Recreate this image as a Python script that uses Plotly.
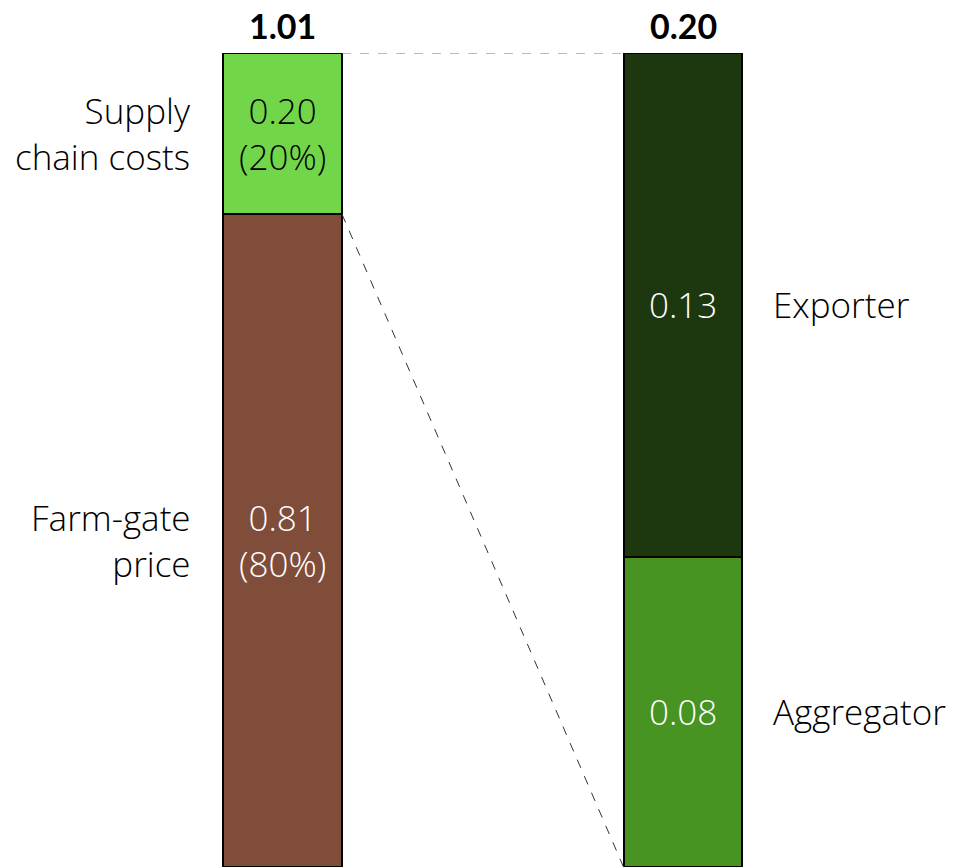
import plotly.graph_objects as go

# Data
left_categories = ["Farm-gate<br>price", "Supply<br>chain costs"]
left_values = [0.81, 0.20]
left_colors = ["#7f4d3a", "#72d64a"]
left_text_colors = ["white", "black"]

right_categories = ["Aggregator", "Exporter"]
right_values = [0.08, 0.13]
right_colors = ["#479423", "#1d380f"]
right_text_colors = ["white", "white"]

header_labels = ["1.01", "0.20"]
bar_positions = [0, 1]

FONT = "Open Sans"
HFONT = "Lato"
FS = 35
W = 0.297

fig = go.Figure()

left_total = sum(left_values)
right_total = sum(right_values)

for cat, v, c in zip(left_categories, left_values, left_colors):
    fig.add_trace(go.Bar(x=[bar_positions[0]], y=[v], width=W, marker=dict(color=c, line=dict(color="black", width=2)),
                         xaxis="x", yaxis="y", showlegend=False, hoverinfo="skip"))
for cat, v, c in zip(right_categories, right_values, right_colors):
    fig.add_trace(go.Bar(x=[bar_positions[1]], y=[v], width=W, marker=dict(color=c, line=dict(color="black", width=2)),
                         xaxis="x", yaxis="y2", showlegend=False, hoverinfo="skip"))

annotations = []
base = 0
for cat, v, tc in zip(left_categories, left_values, left_text_colors):
    mid = base + v / 2
    pct = round(v / left_total * 100)
    annotations.append(dict(x=bar_positions[0], y=mid, xref="x", yref="y", text=f"{v:.2f}<br>({pct}%)",
                            showarrow=False, font=dict(family=FONT, size=FS, color=tc, weight=300), align="center"))
    annotations.append(dict(x=bar_positions[0] - W / 2, y=mid, xref="x", yref="y", text=cat, xanchor="right",
                            xshift=-30, showarrow=False, font=dict(family=FONT, size=FS, color="black", weight=300), align="right"))
    base += v
base = 0
for cat, v, tc in zip(right_categories, right_values, right_text_colors):
    mid = base + v / 2
    annotations.append(dict(x=bar_positions[1], y=mid, xref="x", yref="y2", text=f"{v:.2f}",
                            showarrow=False, font=dict(family=FONT, size=FS, color=tc, weight=300)))
    annotations.append(dict(x=bar_positions[1] + W / 2, y=mid, xref="x", yref="y2", text=cat, xanchor="left",
                            xshift=29, showarrow=False, font=dict(family=FONT, size=FS, color="black", weight=300), align="left"))
    base += v

annotations.append(dict(x=bar_positions[0], y=left_total, xref="x", yref="y", text=f"<b>{header_labels[0]}</b>",
                        yanchor="bottom", yshift=5, showarrow=False, font=dict(family=HFONT, size=34, color="black")))
annotations.append(dict(x=bar_positions[1], y=right_total, xref="x", yref="y2", text=f"<b>{header_labels[1]}</b>",
                        yanchor="bottom", yshift=5, showarrow=False, font=dict(family=HFONT, size=34, color="black")))

shapes = [
    dict(type="line", xref="x", yref="y", x0=bar_positions[0] + W / 2, y0=left_total,
         x1=bar_positions[1] - W / 2, y1=left_total, line=dict(color="#777", width=1, dash="dash")),
    dict(type="line", xref="x", yref="y", x0=bar_positions[0] + W / 2, y0=left_values[0],
         x1=bar_positions[1] - W / 2, y1=0, line=dict(color="#333", width=1, dash="dash")),
]

fig.update_layout(
    width=967, height=867,
    margin=dict(l=0, r=0, t=53, b=0),
    barmode="stack",
    plot_bgcolor="white", paper_bgcolor="white",
    xaxis=dict(range=[-0.7054, 1.7091], visible=False, fixedrange=True),
    yaxis=dict(range=[0, left_total], visible=False),
    yaxis2=dict(range=[0, right_total], visible=False, overlaying="y"),
    annotations=annotations,
    shapes=shapes,
    font=dict(family=FONT),
)

fig.write_html("out.html")
